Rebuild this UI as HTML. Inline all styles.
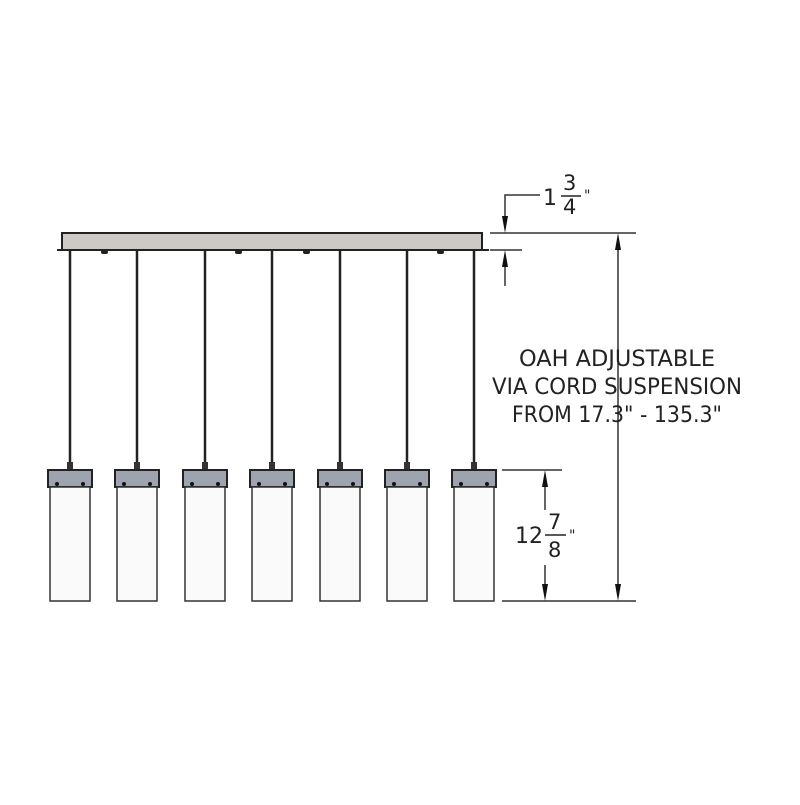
<!DOCTYPE html>
<html><head><style>html,body{margin:0;padding:0;background:#fff}</style></head>
<body>
<svg width="800" height="800" viewBox="0 0 800 800" xmlns="http://www.w3.org/2000/svg" font-family="'DejaVu Sans','Liberation Sans',sans-serif">
<rect width="800" height="800" fill="#fff"/>
<rect x="62" y="233" width="420" height="17" fill="#cdc9c4" stroke="#222" stroke-width="2"/>
<line x1="57" y1="250" x2="489" y2="250" stroke="#222" stroke-width="2"/>
<g fill="#222">
<rect x="101" y="250" width="7" height="4" rx="2"/>
<rect x="235" y="250" width="7" height="4" rx="2"/>
<rect x="303" y="250" width="7" height="4" rx="2"/>
<rect x="437" y="250" width="7" height="4" rx="2"/>
</g>
<g>
<g transform="translate(70,0)"><line x1="0" y1="251" x2="0" y2="463" stroke="#222" stroke-width="2.5"/><rect x="-3" y="462" width="6" height="9" fill="#333"/><rect x="-22" y="470" width="44" height="17" fill="#9ea3b0" stroke="#222" stroke-width="2"/><circle cx="-13" cy="484" r="2" fill="#111"/><circle cx="13" cy="484" r="2" fill="#111"/><rect x="-20" y="487" width="40" height="114" fill="#fafafa" stroke="#333" stroke-width="1.5"/></g>
<g transform="translate(137,0)"><line x1="0" y1="251" x2="0" y2="463" stroke="#222" stroke-width="2.5"/><rect x="-3" y="462" width="6" height="9" fill="#333"/><rect x="-22" y="470" width="44" height="17" fill="#9ea3b0" stroke="#222" stroke-width="2"/><circle cx="-13" cy="484" r="2" fill="#111"/><circle cx="13" cy="484" r="2" fill="#111"/><rect x="-20" y="487" width="40" height="114" fill="#fafafa" stroke="#333" stroke-width="1.5"/></g>
<g transform="translate(205,0)"><line x1="0" y1="251" x2="0" y2="463" stroke="#222" stroke-width="2.5"/><rect x="-3" y="462" width="6" height="9" fill="#333"/><rect x="-22" y="470" width="44" height="17" fill="#9ea3b0" stroke="#222" stroke-width="2"/><circle cx="-13" cy="484" r="2" fill="#111"/><circle cx="13" cy="484" r="2" fill="#111"/><rect x="-20" y="487" width="40" height="114" fill="#fafafa" stroke="#333" stroke-width="1.5"/></g>
<g transform="translate(272,0)"><line x1="0" y1="251" x2="0" y2="463" stroke="#222" stroke-width="2.5"/><rect x="-3" y="462" width="6" height="9" fill="#333"/><rect x="-22" y="470" width="44" height="17" fill="#9ea3b0" stroke="#222" stroke-width="2"/><circle cx="-13" cy="484" r="2" fill="#111"/><circle cx="13" cy="484" r="2" fill="#111"/><rect x="-20" y="487" width="40" height="114" fill="#fafafa" stroke="#333" stroke-width="1.5"/></g>
<g transform="translate(340,0)"><line x1="0" y1="251" x2="0" y2="463" stroke="#222" stroke-width="2.5"/><rect x="-3" y="462" width="6" height="9" fill="#333"/><rect x="-22" y="470" width="44" height="17" fill="#9ea3b0" stroke="#222" stroke-width="2"/><circle cx="-13" cy="484" r="2" fill="#111"/><circle cx="13" cy="484" r="2" fill="#111"/><rect x="-20" y="487" width="40" height="114" fill="#fafafa" stroke="#333" stroke-width="1.5"/></g>
<g transform="translate(407,0)"><line x1="0" y1="251" x2="0" y2="463" stroke="#222" stroke-width="2.5"/><rect x="-3" y="462" width="6" height="9" fill="#333"/><rect x="-22" y="470" width="44" height="17" fill="#9ea3b0" stroke="#222" stroke-width="2"/><circle cx="-13" cy="484" r="2" fill="#111"/><circle cx="13" cy="484" r="2" fill="#111"/><rect x="-20" y="487" width="40" height="114" fill="#fafafa" stroke="#333" stroke-width="1.5"/></g>
<g transform="translate(474,0)"><line x1="0" y1="251" x2="0" y2="463" stroke="#222" stroke-width="2.5"/><rect x="-3" y="462" width="6" height="9" fill="#333"/><rect x="-22" y="470" width="44" height="17" fill="#9ea3b0" stroke="#222" stroke-width="2"/><circle cx="-13" cy="484" r="2" fill="#111"/><circle cx="13" cy="484" r="2" fill="#111"/><rect x="-20" y="487" width="40" height="114" fill="#fafafa" stroke="#333" stroke-width="1.5"/></g>
</g>
<g stroke="#333" stroke-width="1.5" fill="none">
<line x1="490" y1="233" x2="636" y2="233"/>
<line x1="490" y1="250" x2="522" y2="250"/>
<polyline points="540,195 505,195 505,225"/>
<line x1="505" y1="258" x2="505" y2="286"/>
<line x1="618" y1="241" x2="618" y2="593"/>
<line x1="502" y1="470" x2="562" y2="470"/>
<line x1="502" y1="601" x2="636" y2="601"/>
<line x1="545" y1="478" x2="545" y2="510"/>
<line x1="545" y1="565" x2="545" y2="593"/>
</g>
<g fill="#111">
<polygon points="502,216 508,216 505,233"/>
<polygon points="502,267 508,267 505,250"/>
<polygon points="615,250 621,250 618,233"/>
<polygon points="615,584 621,584 618,601"/>
<polygon points="542,487 548,487 545,470"/>
<polygon points="542,584 548,584 545,601"/>
</g>
<g fill="#222" font-size="22">
<text x="543" y="205">1</text>
<text x="563" y="190" font-size="21">3</text>
<line x1="561" y1="196" x2="581" y2="196" stroke="#222" stroke-width="1.5"/>
<text x="563" y="214" font-size="21">4</text>
<text x="584" y="200" font-size="14">"</text>
<text x="515" y="543">12</text>
<text x="548" y="529" font-size="21">7</text>
<line x1="545" y1="535" x2="566" y2="535" stroke="#222" stroke-width="1.5"/>
<text x="548" y="557" font-size="21">8</text>
<text x="569" y="540" font-size="14">"</text>
<text x="617" y="366" text-anchor="middle" textLength="196" lengthAdjust="spacingAndGlyphs">OAH ADJUSTABLE</text>
<text x="617" y="394" text-anchor="middle" textLength="250" lengthAdjust="spacingAndGlyphs">VIA CORD SUSPENSION</text>
<text x="617" y="422" text-anchor="middle" textLength="210" lengthAdjust="spacingAndGlyphs">FROM 17.3" - 135.3"</text>
</g>
</svg>
</body></html>
